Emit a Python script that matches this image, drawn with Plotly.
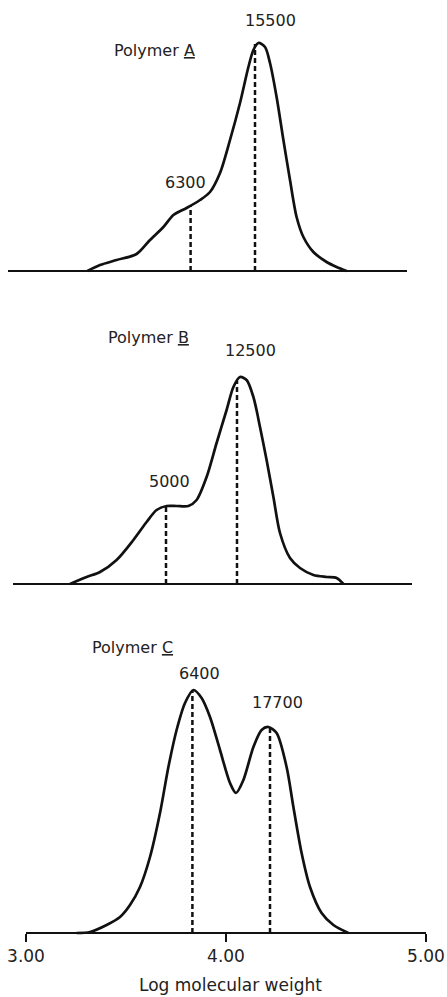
import plotly.graph_objects as go

W, H = 447, 997

# ---------------- data (log MW, relative height) ----------------
a_logmw = [3.307, 3.37, 3.453, 3.553, 3.62, 3.687, 3.737, 3.803, 3.87, 3.92, 3.97, 4.02, 4.07,
           4.112, 4.137, 4.162, 4.195, 4.22, 4.253, 4.287, 4.32, 4.353, 4.387, 4.437, 4.503, 4.553, 4.603]
a_height = [0, 6, 11, 17, 31, 44, 56, 63, 71, 79, 98, 131, 168,
            204, 221, 228, 224, 208, 174, 131, 91, 54, 34, 19, 9, 4, 0]

b_logmw = [3.22, 3.303, 3.37, 3.453, 3.537, 3.603, 3.653, 3.703, 3.753, 3.812, 3.853, 3.903, 3.953,
           4.003, 4.037, 4.07, 4.103, 4.137, 4.17, 4.203, 4.237, 4.27, 4.32, 4.37, 4.437, 4.503, 4.553, 4.587]
b_height = [0, 7, 12, 24, 44, 62, 74, 78, 78, 78, 84, 107, 141,
            174, 197, 207, 204, 187, 157, 124, 87, 51, 26, 16, 9, 7, 6, 0]

c_logmw = [3.253, 3.32, 3.403, 3.47, 3.52, 3.57, 3.62, 3.67, 3.712, 3.753, 3.795, 3.837, 3.878,
           3.92, 3.97, 4.02, 4.05, 4.087, 4.137, 4.178, 4.212, 4.253, 4.303, 4.337, 4.378, 4.42,
           4.478, 4.537, 4.612]
c_height = [0, 1, 8, 16, 28, 46, 76, 120, 166, 203, 230, 243, 235,
            216, 183, 150, 140, 153, 186, 203, 206, 200, 166, 126, 80, 46,
            20, 8, 0]

# peak markers (dashed drops): position, height
a_peaks_x = [3.823, 4.145]
a_peaks_h = [65, 227]
b_peaks_x = [3.70, 4.055]
b_peaks_h = [78, 203]
c_peaks_x = [3.832, 4.22]
c_peaks_h = [243, 205]

a_labels = ["6300", "15500"]
a_label_x = [3.797, 4.22]
a_label_y = [89, 251]
b_labels = ["5000", "12500"]
b_label_x = [3.716, 4.12]
b_label_y = [102, 233]
c_labels = ["6400", "17700"]
c_label_x = [3.866, 4.257]
c_label_y = [260, 231]

titles = ["Polymer <u>A</u>", "Polymer <u>B</u>", "Polymer <u>C</u>"]
title_x = [3.428, 3.40, 3.32]
title_y = [221, 246, 286]

# baselines (extent in log MW)
a_base = [2.91, 4.905]
b_base = [2.935, 4.93]
c_base = [3.00, 5.00]

tick_vals = [3, 4, 5]
tick_text = ["3.00", "4.00", "5.00"]
x_title = "Log molecular weight"

# ---------------- layout helpers ----------------
FONT = "DejaVu Sans"
INK = "#111111"
TXT = "#222222"

# panel pixel geometry: baseline pixel, y-range
panels = [
    dict(base_px=271, yr=[-5, 265]),
    dict(base_px=584, yr=[-5, 265]),
    dict(base_px=933, yr=[-5, 290]),
]


def domain(p):
    bottom = p["base_px"] - p["yr"][0]
    top = p["base_px"] - p["yr"][1]
    return [(H - bottom) / H, (H - top) / H]


fig = go.Figure()
series = [
    (a_logmw, a_height, a_peaks_x, a_peaks_h, a_base, a_labels, a_label_x, a_label_y),
    (b_logmw, b_height, b_peaks_x, b_peaks_h, b_base, b_labels, b_label_x, b_label_y),
    (c_logmw, c_height, c_peaks_x, c_peaks_h, c_base, c_labels, c_label_x, c_label_y),
]
yrefs = ["y", "y2", "y3"]
annotations = []
for i, (xs, ys, px, ph, base, labs, lx, ly) in enumerate(series):
    yref = yrefs[i]
    fig.add_trace(go.Scatter(x=base, y=[0, 0], mode="lines", yaxis=yref, xaxis="x",
                             line=dict(color=INK, width=1.8), hoverinfo="skip", showlegend=False))
    fig.add_trace(go.Scatter(x=xs, y=ys, mode="lines", yaxis=yref, xaxis="x",
                             line=dict(color=INK, width=2.7, shape="spline", smoothing=0.8),
                             showlegend=False))
    for xv, hv in zip(px, ph):
        fig.add_trace(go.Scatter(x=[xv, xv], y=[0, hv], mode="lines", yaxis=yref, xaxis="x",
                                 line=dict(color=INK, width=2.5, dash="5px,3px"),
                                 hoverinfo="skip", showlegend=False))
    for t, xv, yv in zip(labs, lx, ly):
        annotations.append(dict(text=t, x=xv, y=yv, xref="x", yref=yref, showarrow=False,
                                xanchor="center", yanchor="middle",
                                font=dict(family=FONT, size=16, color=TXT)))
    annotations.append(dict(text=titles[i], x=title_x[i], y=title_y[i], xref="x", yref=yref,
                            showarrow=False, xanchor="left", yanchor="middle",
                            font=dict(family=FONT, size=16, color=TXT)))

annotations.append(dict(text=x_title, x=4.02, y=(H - 985) / H, xref="x", yref="paper",
                        showarrow=False, xanchor="center", yanchor="middle",
                        font=dict(family=FONT, size=17, color=TXT)))

x_range = [3 + (0 - 26) / 200, 3 + (W - 26) / 200]

fig.update_layout(
    width=W, height=H,
    margin=dict(l=0, r=0, t=0, b=0, autoexpand=False),
    paper_bgcolor="white", plot_bgcolor="white",
    showlegend=False,
    xaxis=dict(range=x_range, domain=[0, 1], anchor="free", position=(H - 933) / H,
               automargin=False,
               showline=False, showgrid=False, zeroline=False,
               ticks="outside", ticklen=8, tickwidth=2, tickcolor=INK,
               tickvals=tick_vals, ticktext=tick_text,
               tickfont=dict(family=FONT, size=17, color=TXT)),
    yaxis=dict(domain=domain(panels[0]), range=panels[0]["yr"], anchor="x", visible=False,
               automargin=False),
    yaxis2=dict(domain=domain(panels[1]), range=panels[1]["yr"], anchor="x", visible=False,
                automargin=False),
    yaxis3=dict(domain=domain(panels[2]), range=panels[2]["yr"], anchor="x", visible=False,
                automargin=False),
    annotations=annotations,
)

fig.write_html("out.html", config={"displayModeBar": False},
               post_script="document.body.style.margin='0';document.body.style.overflow='hidden';")
